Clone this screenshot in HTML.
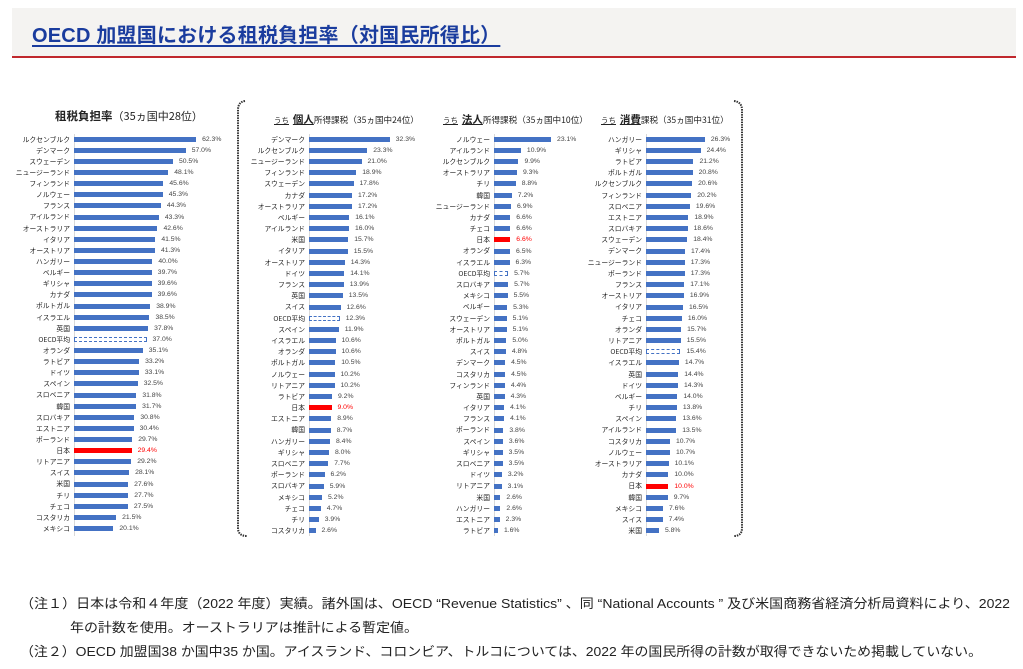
<!DOCTYPE html>
<html><head><meta charset="utf-8">
<style>
*{margin:0;padding:0;box-sizing:border-box}
body{width:1023px;height:669px;background:#fff;position:relative;overflow:hidden;font-family:"Liberation Sans","Noto Sans CJK JP",sans-serif;color:#222}
.band{position:absolute;left:12px;top:8px;width:1004px;height:50px;background:#f4f3f1;border-bottom:2px solid #c0282d}
.title{position:absolute;left:32px;top:19px;font-size:20px;font-weight:bold;color:#1a3c9e;text-decoration:underline;text-underline-offset:3px;white-space:nowrap;letter-spacing:0.2px}
.p{position:absolute;top:133.6px;width:150px;font-size:7px;color:#333}
.p .ax{position:absolute;left:0;top:0;width:1px;height:402px;background:#d9d9d9}
.r{height:11.2px;display:flex;align-items:center;position:relative}
.p1 .r{height:11.14px}
.l{position:absolute;right:calc(100% + 4px);top:0;line-height:11.2px;white-space:nowrap;font-family:"Noto Sans CJK JP",sans-serif;font-size:6.8px;color:#222}
.r i{display:inline-block;height:5px;background:#4472c4;width:calc(var(--v)*var(--s)*1px)}
.r b{font-weight:normal;margin-left:6px;font-size:6.8px;color:#444}
.r i.o{background:#fff;border:1px dashed #4472c4}
.r i.j{background:#ff0000}
.r b.j{color:#ff0000}
.h{position:absolute;white-space:nowrap;font-family:"Noto Sans CJK JP",sans-serif;font-size:8.6px;color:#222}
.h u{font-size:7.5px}
.h .k{font-size:10.5px;font-weight:bold;text-decoration:underline}
</style></head><body>
<div class="band"></div>
<div class="title">OECD 加盟国における租税負担率（対国民所得比）</div>

<div class="h" style="left:55px;top:108px;font-size:11px"><b style="font-size:11.5px">租税負担率</b>（35ヵ国中28位）</div>
<div class="h" style="left:274px;top:112px"><u>うち</u>&nbsp; <span class="k">個人</span>所得課税（35ヵ国中24位）</div>
<div class="h" style="left:443px;top:112px"><u>うち</u>&nbsp; <span class="k">法人</span>所得課税（35ヵ国中10位）</div>
<div class="h" style="left:601px;top:112px"><u>うち</u>&nbsp; <span class="k">消費</span>課税（35ヵ国中31位）</div>

<svg style="position:absolute;left:0;top:0" width="1023" height="669">
<path d="M245 101 Q238 102 238 110 L238 528 Q238 536 247 536" fill="none" stroke="#333" stroke-width="2" stroke-dasharray="1.5 1"/>
<path d="M734 101 Q742 102 742 110 L742 528 Q742 536 734 536" fill="none" stroke="#333" stroke-width="2" stroke-dasharray="1.5 1"/>
</svg>

<div class="p p1" style="left:74px;--s:1.96"><div class="ax"></div>
<div class="r"><span class="l">ルクセンブルク</span><i style="--v:62.3"></i><b>62.3%</b></div>
<div class="r"><span class="l">デンマーク</span><i style="--v:57.0"></i><b>57.0%</b></div>
<div class="r"><span class="l">スウェーデン</span><i style="--v:50.5"></i><b>50.5%</b></div>
<div class="r"><span class="l">ニュージーランド</span><i style="--v:48.1"></i><b>48.1%</b></div>
<div class="r"><span class="l">フィンランド</span><i style="--v:45.6"></i><b>45.6%</b></div>
<div class="r"><span class="l">ノルウェー</span><i style="--v:45.3"></i><b>45.3%</b></div>
<div class="r"><span class="l">フランス</span><i style="--v:44.3"></i><b>44.3%</b></div>
<div class="r"><span class="l">アイルランド</span><i style="--v:43.3"></i><b>43.3%</b></div>
<div class="r"><span class="l">オーストラリア</span><i style="--v:42.6"></i><b>42.6%</b></div>
<div class="r"><span class="l">イタリア</span><i style="--v:41.5"></i><b>41.5%</b></div>
<div class="r"><span class="l">オーストリア</span><i style="--v:41.3"></i><b>41.3%</b></div>
<div class="r"><span class="l">ハンガリー</span><i style="--v:40.0"></i><b>40.0%</b></div>
<div class="r"><span class="l">ベルギー</span><i style="--v:39.7"></i><b>39.7%</b></div>
<div class="r"><span class="l">ギリシャ</span><i style="--v:39.6"></i><b>39.6%</b></div>
<div class="r"><span class="l">カナダ</span><i style="--v:39.6"></i><b>39.6%</b></div>
<div class="r"><span class="l">ポルトガル</span><i style="--v:38.9"></i><b>38.9%</b></div>
<div class="r"><span class="l">イスラエル</span><i style="--v:38.5"></i><b>38.5%</b></div>
<div class="r"><span class="l">英国</span><i style="--v:37.8"></i><b>37.8%</b></div>
<div class="r"><span class="l">OECD平均</span><i class="o" style="--v:37.0"></i><b>37.0%</b></div>
<div class="r"><span class="l">オランダ</span><i style="--v:35.1"></i><b>35.1%</b></div>
<div class="r"><span class="l">ラトビア</span><i style="--v:33.2"></i><b>33.2%</b></div>
<div class="r"><span class="l">ドイツ</span><i style="--v:33.1"></i><b>33.1%</b></div>
<div class="r"><span class="l">スペイン</span><i style="--v:32.5"></i><b>32.5%</b></div>
<div class="r"><span class="l">スロベニア</span><i style="--v:31.8"></i><b>31.8%</b></div>
<div class="r"><span class="l">韓国</span><i style="--v:31.7"></i><b>31.7%</b></div>
<div class="r"><span class="l">スロバキア</span><i style="--v:30.8"></i><b>30.8%</b></div>
<div class="r"><span class="l">エストニア</span><i style="--v:30.4"></i><b>30.4%</b></div>
<div class="r"><span class="l">ポーランド</span><i style="--v:29.7"></i><b>29.7%</b></div>
<div class="r"><span class="l">日本</span><i class="j" style="--v:29.4"></i><b class="j">29.4%</b></div>
<div class="r"><span class="l">リトアニア</span><i style="--v:29.2"></i><b>29.2%</b></div>
<div class="r"><span class="l">スイス</span><i style="--v:28.1"></i><b>28.1%</b></div>
<div class="r"><span class="l">米国</span><i style="--v:27.6"></i><b>27.6%</b></div>
<div class="r"><span class="l">チリ</span><i style="--v:27.7"></i><b>27.7%</b></div>
<div class="r"><span class="l">チェコ</span><i style="--v:27.5"></i><b>27.5%</b></div>
<div class="r"><span class="l">コスタリカ</span><i style="--v:21.5"></i><b>21.5%</b></div>
<div class="r"><span class="l">メキシコ</span><i style="--v:20.1"></i><b>20.1%</b></div>
</div>

<div class="p p2" style="left:309px;--s:2.5"><div class="ax"></div>
<div class="r"><span class="l">デンマーク</span><i style="--v:32.3"></i><b>32.3%</b></div>
<div class="r"><span class="l">ルクセンブルク</span><i style="--v:23.3"></i><b>23.3%</b></div>
<div class="r"><span class="l">ニュージーランド</span><i style="--v:21.0"></i><b>21.0%</b></div>
<div class="r"><span class="l">フィンランド</span><i style="--v:18.9"></i><b>18.9%</b></div>
<div class="r"><span class="l">スウェーデン</span><i style="--v:17.8"></i><b>17.8%</b></div>
<div class="r"><span class="l">カナダ</span><i style="--v:17.2"></i><b>17.2%</b></div>
<div class="r"><span class="l">オーストラリア</span><i style="--v:17.2"></i><b>17.2%</b></div>
<div class="r"><span class="l">ベルギー</span><i style="--v:16.1"></i><b>16.1%</b></div>
<div class="r"><span class="l">アイルランド</span><i style="--v:16.0"></i><b>16.0%</b></div>
<div class="r"><span class="l">米国</span><i style="--v:15.7"></i><b>15.7%</b></div>
<div class="r"><span class="l">イタリア</span><i style="--v:15.5"></i><b>15.5%</b></div>
<div class="r"><span class="l">オーストリア</span><i style="--v:14.3"></i><b>14.3%</b></div>
<div class="r"><span class="l">ドイツ</span><i style="--v:14.1"></i><b>14.1%</b></div>
<div class="r"><span class="l">フランス</span><i style="--v:13.9"></i><b>13.9%</b></div>
<div class="r"><span class="l">英国</span><i style="--v:13.5"></i><b>13.5%</b></div>
<div class="r"><span class="l">スイス</span><i style="--v:12.6"></i><b>12.6%</b></div>
<div class="r"><span class="l">OECD平均</span><i class="o" style="--v:12.3"></i><b>12.3%</b></div>
<div class="r"><span class="l">スペイン</span><i style="--v:11.9"></i><b>11.9%</b></div>
<div class="r"><span class="l">イスラエル</span><i style="--v:10.6"></i><b>10.6%</b></div>
<div class="r"><span class="l">オランダ</span><i style="--v:10.6"></i><b>10.6%</b></div>
<div class="r"><span class="l">ポルトガル</span><i style="--v:10.5"></i><b>10.5%</b></div>
<div class="r"><span class="l">ノルウェー</span><i style="--v:10.2"></i><b>10.2%</b></div>
<div class="r"><span class="l">リトアニア</span><i style="--v:10.2"></i><b>10.2%</b></div>
<div class="r"><span class="l">ラトビア</span><i style="--v:9.2"></i><b>9.2%</b></div>
<div class="r"><span class="l">日本</span><i class="j" style="--v:9.0"></i><b class="j">9.0%</b></div>
<div class="r"><span class="l">エストニア</span><i style="--v:8.9"></i><b>8.9%</b></div>
<div class="r"><span class="l">韓国</span><i style="--v:8.7"></i><b>8.7%</b></div>
<div class="r"><span class="l">ハンガリー</span><i style="--v:8.4"></i><b>8.4%</b></div>
<div class="r"><span class="l">ギリシャ</span><i style="--v:8.0"></i><b>8.0%</b></div>
<div class="r"><span class="l">スロベニア</span><i style="--v:7.7"></i><b>7.7%</b></div>
<div class="r"><span class="l">ポーランド</span><i style="--v:6.2"></i><b>6.2%</b></div>
<div class="r"><span class="l">スロバキア</span><i style="--v:5.9"></i><b>5.9%</b></div>
<div class="r"><span class="l">メキシコ</span><i style="--v:5.2"></i><b>5.2%</b></div>
<div class="r"><span class="l">チェコ</span><i style="--v:4.7"></i><b>4.7%</b></div>
<div class="r"><span class="l">チリ</span><i style="--v:3.9"></i><b>3.9%</b></div>
<div class="r"><span class="l">コスタリカ</span><i style="--v:2.6"></i><b>2.6%</b></div>
</div>

<div class="p p3" style="left:494px;--s:2.47"><div class="ax"></div>
<div class="r"><span class="l">ノルウェー</span><i style="--v:23.1"></i><b>23.1%</b></div>
<div class="r"><span class="l">アイルランド</span><i style="--v:10.9"></i><b>10.9%</b></div>
<div class="r"><span class="l">ルクセンブルク</span><i style="--v:9.9"></i><b>9.9%</b></div>
<div class="r"><span class="l">オーストラリア</span><i style="--v:9.3"></i><b>9.3%</b></div>
<div class="r"><span class="l">チリ</span><i style="--v:8.8"></i><b>8.8%</b></div>
<div class="r"><span class="l">韓国</span><i style="--v:7.2"></i><b>7.2%</b></div>
<div class="r"><span class="l">ニュージーランド</span><i style="--v:6.9"></i><b>6.9%</b></div>
<div class="r"><span class="l">カナダ</span><i style="--v:6.6"></i><b>6.6%</b></div>
<div class="r"><span class="l">チェコ</span><i style="--v:6.6"></i><b>6.6%</b></div>
<div class="r"><span class="l">日本</span><i class="j" style="--v:6.6"></i><b class="j">6.6%</b></div>
<div class="r"><span class="l">オランダ</span><i style="--v:6.5"></i><b>6.5%</b></div>
<div class="r"><span class="l">イスラエル</span><i style="--v:6.3"></i><b>6.3%</b></div>
<div class="r"><span class="l">OECD平均</span><i class="o" style="--v:5.7"></i><b>5.7%</b></div>
<div class="r"><span class="l">スロバキア</span><i style="--v:5.7"></i><b>5.7%</b></div>
<div class="r"><span class="l">メキシコ</span><i style="--v:5.5"></i><b>5.5%</b></div>
<div class="r"><span class="l">ベルギー</span><i style="--v:5.3"></i><b>5.3%</b></div>
<div class="r"><span class="l">スウェーデン</span><i style="--v:5.1"></i><b>5.1%</b></div>
<div class="r"><span class="l">オーストリア</span><i style="--v:5.1"></i><b>5.1%</b></div>
<div class="r"><span class="l">ポルトガル</span><i style="--v:5.0"></i><b>5.0%</b></div>
<div class="r"><span class="l">スイス</span><i style="--v:4.8"></i><b>4.8%</b></div>
<div class="r"><span class="l">デンマーク</span><i style="--v:4.5"></i><b>4.5%</b></div>
<div class="r"><span class="l">コスタリカ</span><i style="--v:4.5"></i><b>4.5%</b></div>
<div class="r"><span class="l">フィンランド</span><i style="--v:4.4"></i><b>4.4%</b></div>
<div class="r"><span class="l">英国</span><i style="--v:4.3"></i><b>4.3%</b></div>
<div class="r"><span class="l">イタリア</span><i style="--v:4.1"></i><b>4.1%</b></div>
<div class="r"><span class="l">フランス</span><i style="--v:4.1"></i><b>4.1%</b></div>
<div class="r"><span class="l">ポーランド</span><i style="--v:3.8"></i><b>3.8%</b></div>
<div class="r"><span class="l">スペイン</span><i style="--v:3.6"></i><b>3.6%</b></div>
<div class="r"><span class="l">ギリシャ</span><i style="--v:3.5"></i><b>3.5%</b></div>
<div class="r"><span class="l">スロベニア</span><i style="--v:3.5"></i><b>3.5%</b></div>
<div class="r"><span class="l">ドイツ</span><i style="--v:3.2"></i><b>3.2%</b></div>
<div class="r"><span class="l">リトアニア</span><i style="--v:3.1"></i><b>3.1%</b></div>
<div class="r"><span class="l">米国</span><i style="--v:2.6"></i><b>2.6%</b></div>
<div class="r"><span class="l">ハンガリー</span><i style="--v:2.6"></i><b>2.6%</b></div>
<div class="r"><span class="l">エストニア</span><i style="--v:2.3"></i><b>2.3%</b></div>
<div class="r"><span class="l">ラトビア</span><i style="--v:1.6"></i><b>1.6%</b></div>
</div>

<div class="p p4" style="left:646px;--s:2.24"><div class="ax"></div>
<div class="r"><span class="l">ハンガリー</span><i style="--v:26.3"></i><b>26.3%</b></div>
<div class="r"><span class="l">ギリシャ</span><i style="--v:24.4"></i><b>24.4%</b></div>
<div class="r"><span class="l">ラトビア</span><i style="--v:21.2"></i><b>21.2%</b></div>
<div class="r"><span class="l">ポルトガル</span><i style="--v:20.8"></i><b>20.8%</b></div>
<div class="r"><span class="l">ルクセンブルク</span><i style="--v:20.6"></i><b>20.6%</b></div>
<div class="r"><span class="l">フィンランド</span><i style="--v:20.2"></i><b>20.2%</b></div>
<div class="r"><span class="l">スロベニア</span><i style="--v:19.6"></i><b>19.6%</b></div>
<div class="r"><span class="l">エストニア</span><i style="--v:18.9"></i><b>18.9%</b></div>
<div class="r"><span class="l">スロバキア</span><i style="--v:18.6"></i><b>18.6%</b></div>
<div class="r"><span class="l">スウェーデン</span><i style="--v:18.4"></i><b>18.4%</b></div>
<div class="r"><span class="l">デンマーク</span><i style="--v:17.4"></i><b>17.4%</b></div>
<div class="r"><span class="l">ニュージーランド</span><i style="--v:17.3"></i><b>17.3%</b></div>
<div class="r"><span class="l">ポーランド</span><i style="--v:17.3"></i><b>17.3%</b></div>
<div class="r"><span class="l">フランス</span><i style="--v:17.1"></i><b>17.1%</b></div>
<div class="r"><span class="l">オーストリア</span><i style="--v:16.9"></i><b>16.9%</b></div>
<div class="r"><span class="l">イタリア</span><i style="--v:16.5"></i><b>16.5%</b></div>
<div class="r"><span class="l">チェコ</span><i style="--v:16.0"></i><b>16.0%</b></div>
<div class="r"><span class="l">オランダ</span><i style="--v:15.7"></i><b>15.7%</b></div>
<div class="r"><span class="l">リトアニア</span><i style="--v:15.5"></i><b>15.5%</b></div>
<div class="r"><span class="l">OECD平均</span><i class="o" style="--v:15.4"></i><b>15.4%</b></div>
<div class="r"><span class="l">イスラエル</span><i style="--v:14.7"></i><b>14.7%</b></div>
<div class="r"><span class="l">英国</span><i style="--v:14.4"></i><b>14.4%</b></div>
<div class="r"><span class="l">ドイツ</span><i style="--v:14.3"></i><b>14.3%</b></div>
<div class="r"><span class="l">ベルギー</span><i style="--v:14.0"></i><b>14.0%</b></div>
<div class="r"><span class="l">チリ</span><i style="--v:13.8"></i><b>13.8%</b></div>
<div class="r"><span class="l">スペイン</span><i style="--v:13.6"></i><b>13.6%</b></div>
<div class="r"><span class="l">アイルランド</span><i style="--v:13.5"></i><b>13.5%</b></div>
<div class="r"><span class="l">コスタリカ</span><i style="--v:10.7"></i><b>10.7%</b></div>
<div class="r"><span class="l">ノルウェー</span><i style="--v:10.7"></i><b>10.7%</b></div>
<div class="r"><span class="l">オーストラリア</span><i style="--v:10.1"></i><b>10.1%</b></div>
<div class="r"><span class="l">カナダ</span><i style="--v:10.0"></i><b>10.0%</b></div>
<div class="r"><span class="l">日本</span><i class="j" style="--v:10.0"></i><b class="j">10.0%</b></div>
<div class="r"><span class="l">韓国</span><i style="--v:9.7"></i><b>9.7%</b></div>
<div class="r"><span class="l">メキシコ</span><i style="--v:7.6"></i><b>7.6%</b></div>
<div class="r"><span class="l">スイス</span><i style="--v:7.4"></i><b>7.4%</b></div>
<div class="r"><span class="l">米国</span><i style="--v:5.8"></i><b>5.8%</b></div>
</div>

<svg style="position:absolute;left:0;top:590px" width="1023" height="79" font-family="Liberation Sans, Noto Sans CJK JP, sans-serif" font-size="13" fill="#222">
<text x="20" y="18" textLength="990" lengthAdjust="spacingAndGlyphs">（注１）日本は令和４年度（2022 年度）実績。諸外国は、OECD “Revenue Statistics” 、同 “National Accounts ” 及び米国商務省経済分析局資料により、2022</text>
<text x="70" y="42" textLength="348" lengthAdjust="spacingAndGlyphs">年の計数を使用。オーストラリアは推計による暫定値。</text>
<text x="20" y="66" textLength="962" lengthAdjust="spacingAndGlyphs">（注２）OECD 加盟国38 か国中35 か国。アイスランド、コロンビア、トルコについては、2022 年の国民所得の計数が取得できないため掲載していない。</text>
</svg>
</body></html>
